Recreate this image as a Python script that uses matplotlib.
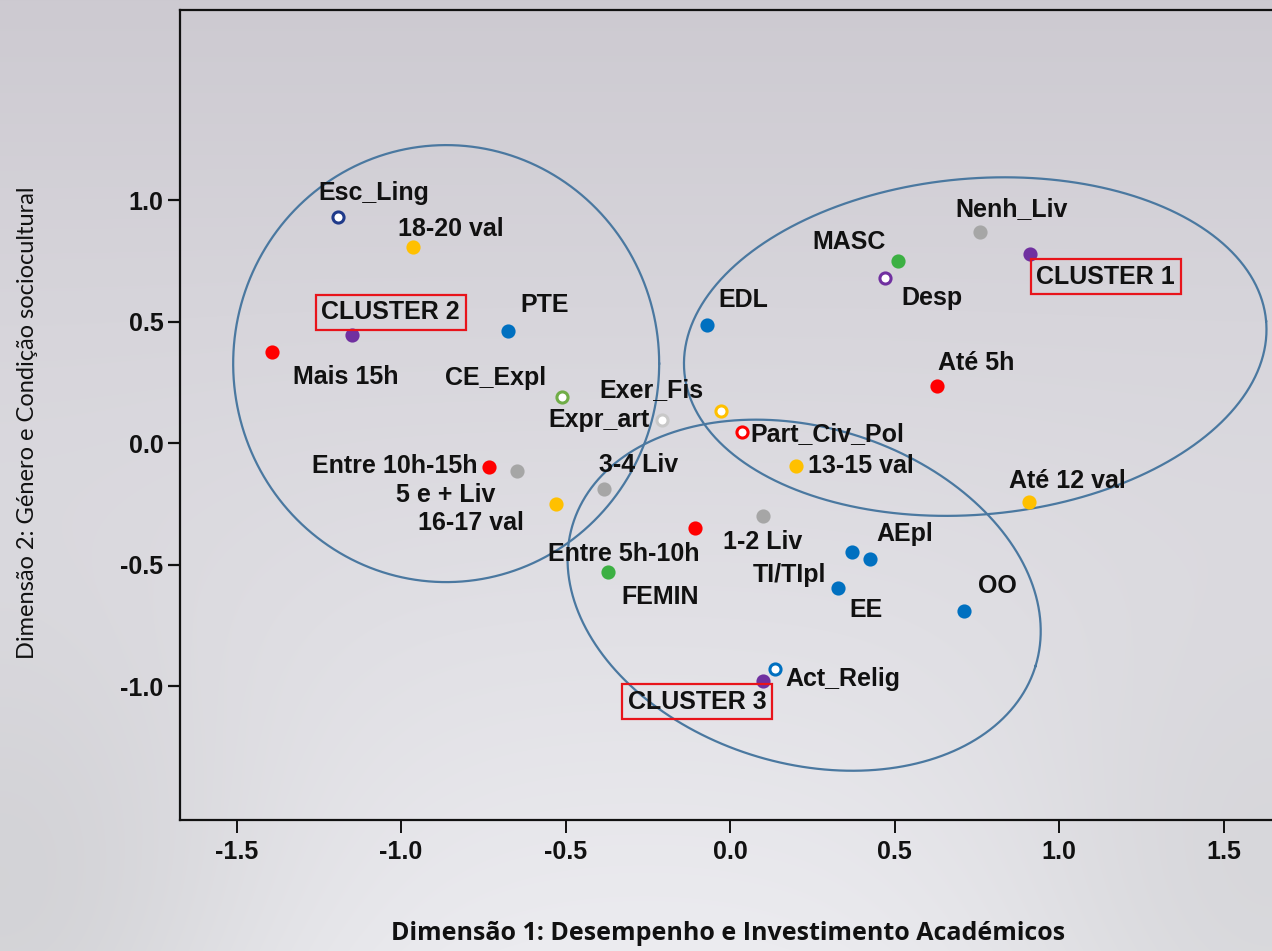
import numpy as np
import matplotlib
matplotlib.use("Agg")
import matplotlib.pyplot as plt
from matplotlib.ticker import FormatStrFormatter

# ---------------- data ----------------
labels = ["Esc_Ling", "18-20 val", "CLUSTER 2", "Mais 15h", "PTE", "CE_Expl",
          "Expr_art", "Exer_Fis", "Part_Civ_Pol", "EDL", "MASC", "Desp",
          "Nenh_Liv", "CLUSTER 1", "Até 5h", "13-15 val", "Até 12 val",
          "Entre 10h-15h", "5 e + Liv", "16-17 val", "3-4 Liv", "Entre 5h-10h",
          "1-2 Liv", "FEMIN", "TI/TIpl", "AEpl", "EE", "OO", "Act_Relig",
          "CLUSTER 3"]
dim1 = [-1.193, -0.965, -1.150, -1.393, -0.674, -0.510,
        -0.206, -0.027, 0.036, -0.070, 0.510, 0.470,
        0.759, 0.911, 0.628, 0.200, 0.907,
        -0.734, -0.649, -0.528, -0.382, -0.106,
        0.100, -0.370, 0.370, 0.425, 0.328, 0.710, 0.137,
        0.100]
dim2 = [0.930, 0.807, 0.444, 0.374, 0.461, 0.189,
        0.095, 0.132, 0.045, 0.486, 0.749, 0.679,
        0.868, 0.778, 0.235, -0.095, -0.243,
        -0.099, -0.115, -0.251, -0.189, -0.350,
        -0.300, -0.531, -0.449, -0.477, -0.597, -0.691, -0.930,
        -0.979]
# variable group of each category point
group = ["esc", "nota", "cluster", "horas", "prof", "ce",
         "expr", "exer", "part", "prof", "sexo", "desp",
         "livros", "cluster", "horas", "nota", "nota",
         "horas", "livros", "nota", "livros", "horas",
         "livros", "sexo", "prof", "prof", "prof", "prof", "relig",
         "cluster"]

# cluster ellipses: centre (data), semi-axes (px), rotation (deg)
ell_cx = [0.745, -0.863, 0.225]
ell_cy = [0.397, 0.327, -0.626]
ell_a = [292, 213, 242]
ell_b = [168, 218.5, 168]
ell_ang = [5, 0, -17]

x_ticks = [-1.5, -1.0, -0.5, 0.0, 0.5, 1.0, 1.5]
y_ticks = [-1.0, -0.5, 0.0, 0.5, 1.0]

# ---------------- styles ----------------
styles = {
    "horas":   dict(fc="#ff0000", ec="#ff0000"),
    "nota":    dict(fc="#ffc000", ec="#ffc000"),
    "livros":  dict(fc="#a6a6a6", ec="#a6a6a6"),
    "sexo":    dict(fc="#3cb043", ec="#3cb043"),
    "cluster": dict(fc="#7030a0", ec="#7030a0"),
    "prof":    dict(fc="#0070c0", ec="#0070c0"),
    "esc":     dict(fc="white", ec="#1f3a8a"),
    "ce":      dict(fc="white", ec="#70ad47"),
    "expr":    dict(fc="white", ec="#c8c8c8"),
    "exer":    dict(fc="white", ec="#ffc000"),
    "part":    dict(fc="white", ec="#ff0000"),
    "desp":    dict(fc="white", ec="#7030a0"),
    "relig":   dict(fc="white", ec="#0070c0"),
}
# label placement: (alignment, dx px, dy px) relative to the point
label_pos = [("center", 36, 24), ("center", 38, 18), ("center", 39, 23),
             ("center", 74, -25), ("center", 36, 26), ("center", -67, 19),
             ("right", -13, 0), ("center", -70, 21), ("left", 8, -2),
             ("center", 36, 25), ("center", -49, 19), ("center", 47, -20),
             ("center", 32, 23), ("center", 76, -23), ("center", 39, 23),
             ("left", 12, 0), ("center", 39, 21), ("right", -11, 1),
             ("center", -71, -24), ("center", -85, -19), ("center", 34, 24),
             ("center", -71, -26), ("center", 0, -26), ("center", 52, -25),
             ("center", -62, -23), ("center", 35, 25), ("center", 28, -22),
             ("center", 34, 25), ("left", 10, -10), ("center", -66, -21)]

W, H, DPI = 1272, 951, 100
fig = plt.figure(figsize=(W / DPI, H / DPI), dpi=DPI)

# background gradient
yy = np.linspace(0, 1, H)[:, None, None]
xx = np.linspace(0, 1, W)[None, :, None]
top = np.array([205, 202, 209]) / 255.0
bot = np.array([236, 236, 240]) / 255.0
img = top + (bot - top) * yy
vig = 1 - 0.10 * np.exp(-((xx / 0.22) ** 2 + ((1 - yy) / 0.35) ** 2)) \
        - 0.08 * np.exp(-(((1 - xx) / 0.22) ** 2 + ((1 - yy) / 0.35) ** 2))
img = np.clip(img * vig, 0, 1)
img = np.broadcast_to(img, (H, W, 3))
bg = fig.add_axes([0, 0, 1, 1], zorder=-10)
bg.imshow(img, aspect="auto", extent=[0, 1, 0, 1], origin="upper")
bg.axis("off")

# main axes
L, R, B, T = 180, 1272, 820, 10
ax = fig.add_axes([L / W, 1 - B / H, (R - L) / W, (B - T) / H])
ax.patch.set_alpha(0)
ax.set_xlim(-1.672, 1.647)
ax.set_ylim(-1.551, 1.782)
ax.spines["right"].set_visible(False)
for s in ["left", "bottom", "top"]:
    ax.spines[s].set_linewidth(1.6)
    ax.spines[s].set_color("#111111")
ax.set_xticks(x_ticks)
ax.set_yticks(y_ticks)
ax.xaxis.set_major_formatter(FormatStrFormatter("%.1f"))
ax.yaxis.set_major_formatter(FormatStrFormatter("%.1f"))
ax.tick_params(axis="x", length=9.5, width=1.4, pad=5, labelsize=18,
               colors="#111111")
ax.tick_params(axis="y", length=9, width=1.6, pad=3, labelsize=18,
               colors="#111111")
for t in ax.get_xticklabels() + ax.get_yticklabels():
    t.set_family("Liberation Sans")
    t.set_fontweight("bold")

# ellipses
o = ax.transData.transform((0, 0))
sx = ax.transData.transform((1, 0))[0] - o[0]
sy = ax.transData.transform((0, 1))[1] - o[1]
tt = np.linspace(0, 2 * np.pi, 400)
for cx, cy, a, b, ang in zip(ell_cx, ell_cy, ell_a, ell_b, ell_ang):
    th = np.deg2rad(ang)
    dx = a * np.cos(tt) * np.cos(th) - b * np.sin(tt) * np.sin(th)
    dy = a * np.cos(tt) * np.sin(th) + b * np.sin(tt) * np.cos(th)
    ax.plot(cx + dx / sx, cy + dy / sy, color="#4a78a0", lw=1.6, zorder=2)

# points
for xv, yv, g in zip(dim1, dim2, group):
    st = styles[g]
    ax.plot(xv, yv, "o", ms=8, mfc=st["fc"], mec=st["ec"], mew=2.2, zorder=4)

# labels
for lab, xv, yv, (ha, dxp, dyp) in zip(labels, dim1, dim2, label_pos):
    kw = dict(textcoords="offset points", ha=ha, va="center", fontsize=18,
              fontweight="bold", family="Liberation Sans", color="#111111",
              zorder=5)
    if lab.startswith("CLUSTER"):
        kw["bbox"] = dict(boxstyle="square,pad=0.22", fc="none", ec="#e8141b",
                          lw=1.6)
    ax.annotate(lab, (xv, yv), xytext=(dxp * 0.72, dyp * 0.72), **kw)

fig.text(728 / W, 1 - 934 / H,
         "Dimensão 1: Desempenho e Investimento Académicos",
         ha="center", va="center", fontsize=18, fontweight="bold",
         family="Open Sans", color="#111111")
fig.text(28 / W, 1 - 423 / H, "Dimensão 2: Género e Condição sociocultural",
         ha="center", va="center", rotation=90, fontsize=17,
         family="Lato", color="#111111")

fig.savefig("out.png", dpi=DPI)
